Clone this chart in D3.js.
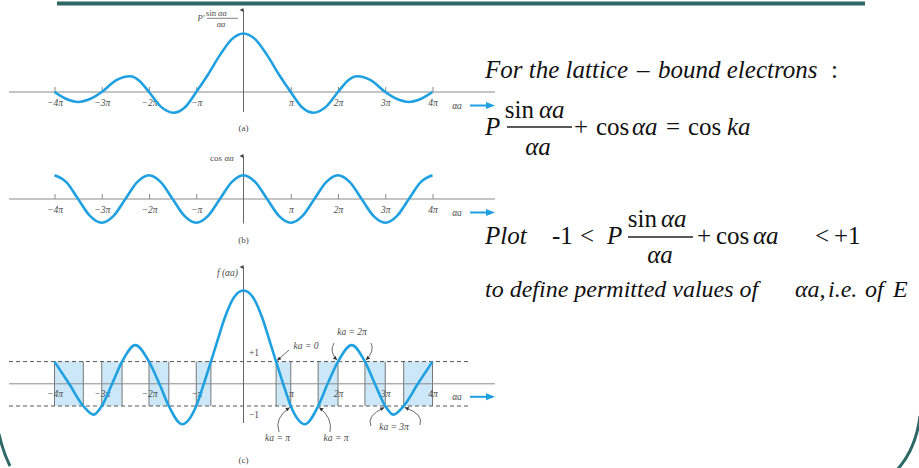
<!DOCTYPE html>
<html>
<head>
<meta charset="utf-8">
<script src="https://cdn.jsdelivr.net/npm/d3@7"></script>
<style>
  html, body { margin: 0; padding: 0; background: #fff; }
  svg { display: block; }
</style>
</head>
<body>
<svg id="chart" width="919" height="468"></svg>
<script>
// ---- data (abscissae in multiples of π) ----
const piTicks = [-4, -3, -2, -1, 1, 2, 3, 4];
const tickLabels = ["−4π", "−3π", "−2π", "−π", "π", "2π", "3π", "4π"];

// (a) P' sin(αa)/αa, normalised to its central peak
const aX = [-4, -3.75, -3.5, -3.25, -3, -2.7, -2.4, -2.2, -2, -1.75, -1.48, -1.25, -1, -0.75, -0.5, -0.25, 0,
            0.25, 0.5, 0.75, 1, 1.25, 1.48, 1.75, 2, 2.2, 2.4, 2.7, 3, 3.25, 3.5, 3.75, 4];
const aY = [0, -0.12, -0.17, -0.12, 0, 0.2, 0.27, 0.19, 0, -0.25, -0.355, -0.27, 0, 0.3, 0.63, 0.9, 1,
            0.9, 0.63, 0.3, 0, -0.27, -0.355, -0.25, 0, 0.19, 0.27, 0.2, 0, -0.12, -0.17, -0.12, 0];

// (b) cos αa
const bX = [-4, -3.75, -3.5, -3.25, -3, -2.75, -2.5, -2.25, -2, -1.75, -1.5, -1.25, -1, -0.75, -0.5, -0.25, 0,
            0.25, 0.5, 0.75, 1, 1.25, 1.5, 1.75, 2, 2.25, 2.5, 2.75, 3, 3.25, 3.5, 3.75, 4];
const bY = [1, 0.71, 0, -0.71, -1, -0.71, 0, 0.71, 1, 0.71, 0, -0.71, -1, -0.71, 0, 0.71, 1,
            0.71, 0, -0.71, -1, -0.71, 0, 0.71, 1, 0.71, 0, -0.71, -1, -0.71, 0, 0.71, 1];

// (c) f(αa) = P sin(αa)/αa + cos αa
const cX = [-4, -3.69, -3.39, -3.17, -3, -2.78, -2.57, -2.29, -2, -1.78, -1.58, -1.3, -1, -0.84, -0.69, -0.55, -0.4, -0.2, 0,
            0.2, 0.4, 0.55, 0.69, 0.84, 1, 1.3, 1.58, 1.78, 2, 2.29, 2.57, 2.78, 3, 3.17, 3.39, 3.69, 4];
const cY = [1, 0, -1, -1.39, -1, 0, 1, 1.74, 1, 0, -1, -1.82, -1, 0, 1, 1.95, 2.95, 3.9, 4.2,
            3.9, 2.95, 1.95, 1, 0, -1, -1.82, -1, 0, 1, 1.74, 1, 0, -1, -1.39, -1, 0, 1];

// allowed bands where -1 <= f(αa) <= +1
const bandLo = [-4, -3, -2, -1, 0.69, 1.58, 2.57, 3.39];
const bandHi = [-3.39, -2.57, -1.58, -0.69, 1, 2, 3, 4];

// ---- layout ----
const SERIF = '"Liberation Serif"';
const svg = d3.select("#chart");
const blue = "#1fa0e0", axisGrey = "#8a8a8a", labelGrey = "#4a4a4a", teal = "#2e6866";

const x = d3.scaleLinear().domain([-4, 4]).range([54.5, 432.5]);
const ya = d3.scaleLinear().domain([0, 1]).range([92, 33.5]);
const yb = d3.scaleLinear().domain([-1, 1]).range([222.8, 175.2]);
const yc = d3.scaleLinear().domain([-1, 1]).range([406, 361.6]);

const defs = svg.append("defs");
defs.append("marker").attr("id", "yhead").attr("viewBox", "0 0 10 10")
  .attr("refX", 5).attr("refY", 10).attr("markerWidth", 4).attr("markerHeight", 6)
  .attr("markerUnits", "userSpaceOnUse").attr("orient", "auto-start-reverse")
  .append("path").attr("d", "M0,10 L5,0 L10,10 Z").attr("fill", "#444");
defs.append("marker").attr("id", "note").attr("viewBox", "0 0 10 10")
  .attr("refX", 10).attr("refY", 5).attr("markerWidth", 5).attr("markerHeight", 4)
  .attr("markerUnits", "userSpaceOnUse").attr("orient", "auto")
  .append("path").attr("d", "M0,0 L10,5 L0,10 Z").attr("fill", "#333");

// slide frame
svg.append("rect").attr("x", 57).attr("y", 1.5).attr("width", 808).attr("height", 4).attr("fill", teal);
svg.append("path").attr("d", "M-1,434 Q3,452 10,466").attr("fill", "none").attr("stroke", teal).attr("stroke-width", 3);
svg.append("path").attr("d", "M920,416 Q916,449 897,470").attr("fill", "none").attr("stroke", teal).attr("stroke-width", 3);

const line = (sx, sy) => d3.line().x(d => sx(d[0])).y(d => sy(d[1])).curve(d3.curveMonotoneX);

// every text run is its own element so each carries its family and style inline
function run(g, xx, yy, size, str, italic, colour, anchor) {
  return g.append("text").attr("x", xx).attr("y", yy)
    .style("font-family", SERIF).style("font-size", size + "px")
    .style("font-style", italic ? "italic" : "normal")
    .attr("fill", colour).attr("text-anchor", anchor || "start").text(str);
}
function label(g, xx, yy, size, str, italic, anchor) {
  return run(g, xx, yy, size, str, italic, labelGrey, anchor);
}

function baseAxis(g, y0, top, bottom, withTicks, pad) {
  g.append("line").attr("x1", 9).attr("x2", 495).attr("y1", y0).attr("y2", y0)
    .attr("stroke", axisGrey).attr("stroke-width", 1);
  const ax = d3.axisBottom(x).tickValues(piTicks).tickFormat((d, i) => tickLabels[i])
    .tickSize(withTicks ? -5 : 0).tickPadding(pad);
  const ag = g.append("g").attr("transform", `translate(0,${y0})`).call(ax);
  ag.select(".domain").remove();
  ag.selectAll(".tick line").attr("stroke", axisGrey);
  ag.selectAll(".tick text").style("font-family", SERIF).style("font-style", "italic")
    .style("font-size", "9.5px").attr("fill", labelGrey);
  // y axis with arrow
  g.append("line").attr("x1", x(0)).attr("x2", x(0)).attr("y1", bottom).attr("y2", top)
    .attr("stroke", "#666").attr("stroke-width", 1).attr("marker-end", "url(#yhead)");
  // αa label and arrow
  const ly = y0 + pad + 6.5;
  label(g, 457, ly + 3, 9.5, "αa", true, "middle");
  g.append("line").attr("x1", 470).attr("x2", 487).attr("y1", ly).attr("y2", ly)
    .attr("stroke", blue).attr("stroke-width", 2);
  g.append("path").attr("d", `M486,${ly - 3.5} L495,${ly} L486,${ly + 3.5} Z`).attr("fill", blue);
}

// ---- panel (a) ----
const ga = svg.append("g");
baseAxis(ga, ya(0), 10, 112, true, 7);
ga.append("path").datum(aX.map((v, i) => [v, aY[i]])).attr("d", line(x, ya))
  .attr("fill", "none").attr("stroke", blue).attr("stroke-width", 2.6);
label(ga, 201, 20.5, 8.5, "P′", true, "middle");
label(ga, 216, 15.5, 8.5, "sin", false, "end");
label(ga, 218, 15.5, 8.5, "αa", true, "start");
ga.append("line").attr("x1", 207).attr("x2", 238).attr("y1", 18.3).attr("y2", 18.3).attr("stroke", labelGrey).attr("stroke-width", 0.7);
label(ga, 221, 26.5, 8.5, "αa", true, "middle");
label(ga, x(0), 130.5, 9, "(a)", false, "middle");

// ---- panel (b) ----
const gb = svg.append("g");
baseAxis(gb, yb(0), 156, 223.5, true, 7);
gb.append("path").datum(bX.map((v, i) => [v, bY[i]])).attr("d", line(x, yb))
  .attr("fill", "none").attr("stroke", blue).attr("stroke-width", 2.6);
label(gb, 222, 161, 9, "cos", false, "end");
label(gb, 224.5, 161, 9, "αa", true, "start");
label(gb, x(0), 242.5, 9, "(b)", false, "middle");

// ---- panel (c) ----
const gc = svg.append("g");
gc.selectAll("rect.band").data(bandLo.map((v, i) => [v, bandHi[i]])).join("rect").attr("class", "band")
  .attr("x", d => x(d[0])).attr("width", d => x(d[1]) - x(d[0]))
  .attr("y", yc(1)).attr("height", yc(-1) - yc(1)).attr("fill", "#cce8f8");
gc.selectAll("line.edge").data(bandLo.concat(bandHi)).join("line").attr("class", "edge")
  .attr("x1", d => x(d)).attr("x2", d => x(d)).attr("y1", yc(1)).attr("y2", yc(-1))
  .attr("stroke", "#777").attr("stroke-width", 1);
[1, -1].forEach(v => gc.append("line").attr("x1", 9).attr("x2", 470).attr("y1", yc(v)).attr("y2", yc(v))
  .attr("stroke", "#555").attr("stroke-width", 1).attr("stroke-dasharray", "4,3"));
baseAxis(gc, yc(0), 267, 423, false, 6.5);
gc.append("path").datum(cX.map((v, i) => [v, cY[i]])).attr("d", line(x, yc))
  .attr("fill", "none").attr("stroke", blue).attr("stroke-width", 2.6);
label(gc, 238, 276, 9.5, "f (αa)", true, "end");
label(gc, 249, 356, 9.5, "+1", false);
label(gc, 249, 418, 9.5, "−1", false);
label(gc, x(0), 463, 9, "(c)", false, "middle");

// band-edge annotations
const notes = [
  { x: 306, y: 349, v: "0" },
  { x: 352, y: 335, v: "2π" },
  { x: 277.5, y: 440.5, v: "π" },
  { x: 336, y: 440.5, v: "π" },
  { x: 394, y: 430, v: "3π" }
];
notes.forEach(d => label(gc, d.x, d.y, 9.5, "ka = " + d.v, true, "middle"));
const notePaths = [
  `M289,350 L${x(0.69) + 1},${yc(1) - 1}`,
  `M334,343 Q329,352 ${x(2) - 1},${yc(1) - 1.5}`,
  `M371,343 Q375,351 ${x(2.57) + 1},${yc(1) - 1.5}`,
  `M279,432 Q274,418 ${x(1) - 1},${yc(-1) + 1.5}`,
  `M330,432 Q333,418 ${x(1.58) + 1},${yc(-1) + 1.5}`,
  `M371,426 Q366,416 ${x(3) - 1},${yc(-1) + 1.5}`,
  `M420,425 Q424,414 ${x(3.39) + 1},${yc(-1) + 1.5}`
];
gc.selectAll("path.np").data(notePaths).join("path").attr("class", "np").attr("d", d => d)
  .attr("fill", "none").attr("stroke", "#444").attr("stroke-width", 0.8).attr("marker-end", "url(#note)");

// ---- equations ----
const eq = svg.append("g");
const ink = "#111";
const E = (xx, yy, str, italic, anchor, size) => run(eq, xx, yy, size || 25, str, italic, ink, anchor);

// line 1
E(485, 78, "For the lattice", true);
E(637, 78, "–", false);
E(658, 78, "bound electrons", true);
E(831, 78, ":", false);

// P sin(αa)/αa + cos αa = cos ka
E(485, 135, "P", true);
E(534, 118, "sin", false, "end");
E(539, 118, "αa", true);
eq.append("line").attr("x1", 507).attr("x2", 572).attr("y1", 127).attr("y2", 127).attr("stroke", "#222").attr("stroke-width", 1.3);
E(538, 155, "αa", true, "middle");
E(574, 135, "+", false);
E(596, 135, "cos", false);
E(632, 135, "αa", true);
E(666, 135, "=", false);
E(688, 135, "cos", false);
E(727, 135, "ka", true);

// Plot -1 < P sin(αa)/αa + cos αa < +1
E(485, 244, "Plot", true);
E(552, 244, "-1", false);
E(580, 244, "<", false);
E(607, 244, "P", true);
E(657, 227, "sin", false, "end");
E(661, 227, "αa", true);
eq.append("line").attr("x1", 628).attr("x2", 693).attr("y1", 237).attr("y2", 237).attr("stroke", "#222").attr("stroke-width", 1.3);
E(660, 263, "αa", true, "middle");
E(697, 244, "+", false);
E(716, 244, "cos", false);
E(753, 244, "αa", true);
E(815, 244, "<", false);
E(834, 244, "+1", false);

// line 3
E(485, 297, "to define permitted values of", true, "start", 24);
E(795, 297, "αa,", true, "start", 24);
E(828, 297, "i.e.", true, "start", 24);
E(865, 297, "of", true, "start", 24);
E(893, 297, "E", true, "start", 24);
</script>
</body>
</html>
